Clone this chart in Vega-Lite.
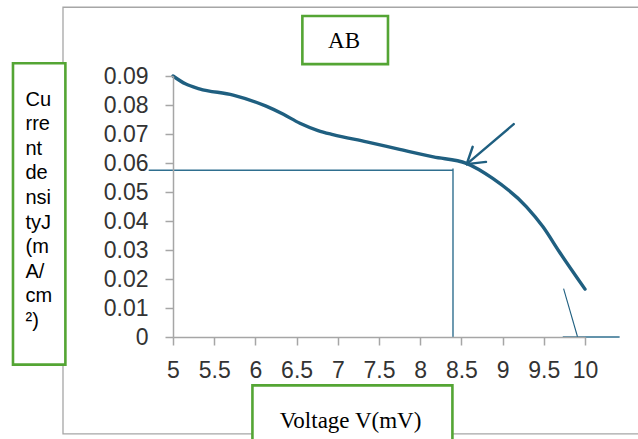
{
  "$schema": "https://vega.github.io/schema/vega-lite/v6.json",
  "width": 412,
  "height": 261,
  "autosize": {"type": "none"},
  "padding": {"left": 173, "top": 76, "right": 53, "bottom": 102},
  "background": "white",
  "config": {
    "view": {"stroke": null}
  },
  "title": {
    "text": "AB",
    "font": "Liberation Serif",
    "fontSize": 23,
    "fontWeight": "normal",
    "color": "#000000",
    "anchor": "middle",
    "dx": -35,
    "offset": -64,
    "baseline": "alphabetic"
  },
  "datasets": {
    "curve": [
      {"v": 5.0, "j": 0.0900},
      {"v": 5.15, "j": 0.0873},
      {"v": 5.32, "j": 0.0856},
      {"v": 5.73, "j": 0.0834},
      {"v": 6.13, "j": 0.0796},
      {"v": 6.34, "j": 0.0768},
      {"v": 6.54, "j": 0.0737},
      {"v": 6.76, "j": 0.0712},
      {"v": 6.94, "j": 0.0698},
      {"v": 7.35, "j": 0.0673},
      {"v": 7.75, "j": 0.0647},
      {"v": 8.16, "j": 0.0621},
      {"v": 8.56, "j": 0.0599},
      {"v": 8.88, "j": 0.0547},
      {"v": 9.29, "j": 0.0449},
      {"v": 9.49, "j": 0.0380},
      {"v": 9.69, "j": 0.0293},
      {"v": 10.0, "j": 0.0165}
    ],
    "segments": [
      {"kind": "guide", "v": 4.705, "j": 0.0575, "v2": 8.398, "j2": 0.0575},
      {"kind": "guide", "v": 8.398, "j": 0.0581, "v2": 8.398, "j2": 0.0},
      {"kind": "guide", "v": 9.73, "j": 0.0, "v2": 10.42, "j2": 0.0},
      {"kind": "thin", "v": 9.74, "j": 0.0167, "v2": 9.91, "j2": 0.0},
      {"kind": "arrow", "v": 9.135, "j": 0.0734, "v2": 8.564, "j2": 0.0596},
      {"kind": "arrow", "v": 8.564, "j": 0.0596, "v2": 8.637, "j2": 0.0656},
      {"kind": "arrow", "v": 8.564, "j": 0.0596, "v2": 8.799, "j2": 0.0604}
    ],
    "frames": [
      {"kind": "outer", "v": 3.665, "j": 0.1137, "v2": 10.70, "j2": -0.0334},
      {"kind": "green", "v": 6.570, "j": 0.1107, "v2": 7.609, "j2": 0.0941},
      {"kind": "green", "v": 3.058, "j": 0.0944, "v2": 3.694, "j2": -0.00953},
      {"kind": "green", "v": 5.964, "j": -0.01667, "v2": 8.391, "j2": -0.0390}
    ]
  },
  "encoding": {
    "x": {
      "field": "v", "type": "quantitative",
      "scale": {"domain": [5, 10], "nice": false, "zero": false},
      "axis": {
        "zindex": 2,
        "grid": false,
        "domainColor": "#a6a6a6",
        "domainWidth": 1.5,
        "tickColor": "#a6a6a6",
        "tickWidth": 1.5,
        "tickSize": 8,
        "labelFont": "Liberation Sans",
        "labelFontSize": 23,
        "labelColor": "#333333",
        "labelOverlap": false,
        "labelFlush": false,
        "tickCount": 20,
        "values": [5, 5.5, 6, 6.5, 7, 7.5, 8, 8.5, 9, 9.5, 10],
        "format": ".1~f",
        "labelPadding": 14,
        "title": "Voltage V(mV)",
        "titleFont": "Liberation Serif",
        "titleFontSize": 23,
        "titleFontWeight": "normal",
        "titleColor": "#000000",
        "titleX": 177,
        "titleY": 90,
        "titleAlign": "center",
        "titleBaseline": "alphabetic"
      }
    },
    "y": {
      "field": "j", "type": "quantitative",
      "scale": {"domain": [0, 0.09], "nice": false, "zero": false},
      "axis": {
        "zindex": 2,
        "grid": false,
        "domainColor": "#a6a6a6",
        "domainWidth": 1.5,
        "tickColor": "#a6a6a6",
        "tickWidth": 1.5,
        "tickSize": 8,
        "labelFont": "Liberation Sans",
        "labelFontSize": 23,
        "labelColor": "#333333",
        "labelOverlap": false,
        "labelFlush": false,
        "tickCount": 20,
        "values": [0, 0.01, 0.02, 0.03, 0.04, 0.05, 0.06, 0.07, 0.08, 0.09],
        "format": ".2~f",
        "labelPadding": 17,
        "title": ["Cu", "rre", "nt", "de", "nsi", "tyJ", "(m", "A/", "cm", "²)"],
        "titleFont": "Liberation Sans",
        "titleFontSize": 20,
        "titleFontWeight": "normal",
        "titleColor": "#000000",
        "titleLineHeight": 24.6,
        "titleAngle": 0,
        "titleAlign": "left",
        "titleBaseline": "alphabetic",
        "titleX": -148,
        "titleY": 29
      }
    }
  },
  "layer": [
    {
      "data": {"name": "frames"},
      "transform": [{"filter": "datum.kind == 'outer'"}],
      "mark": {"type": "rect", "filled": false, "stroke": "#a6a6a6", "strokeWidth": 1.3},
      "encoding": {
        "x2": {"field": "v2"},
        "y2": {"field": "j2"}
      }
    },
    {
      "data": {"name": "frames"},
      "transform": [{"filter": "datum.kind == 'green'"}],
      "mark": {"type": "rect", "fill": "white", "stroke": "#54a534", "strokeWidth": 2.6},
      "encoding": {
        "x2": {"field": "v2"},
        "y2": {"field": "j2"}
      }
    },
    {
      "data": {"name": "segments"},
      "transform": [{"filter": "datum.kind == 'guide'"}],
      "mark": {"type": "rule", "color": "#2f6f8f", "strokeWidth": 1.4},
      "encoding": {
        "x2": {"field": "v2"},
        "y2": {"field": "j2"}
      }
    },
    {
      "data": {"name": "segments"},
      "transform": [{"filter": "datum.kind == 'thin'"}],
      "mark": {"type": "rule", "color": "#1f5f80", "strokeWidth": 1.1},
      "encoding": {
        "x2": {"field": "v2"},
        "y2": {"field": "j2"}
      }
    },
    {
      "data": {"name": "segments"},
      "transform": [{"filter": "datum.kind == 'arrow'"}],
      "mark": {"type": "rule", "color": "#1f5f80", "strokeWidth": 2.4, "strokeCap": "round"},
      "encoding": {
        "x2": {"field": "v2"},
        "y2": {"field": "j2"}
      }
    },
    {
      "data": {"name": "curve"},
      "mark": {"type": "line", "color": "#1f5f80", "strokeWidth": 3.4, "interpolate": "monotone", "strokeCap": "round"},
      "encoding": {}
    }
  ]
}
